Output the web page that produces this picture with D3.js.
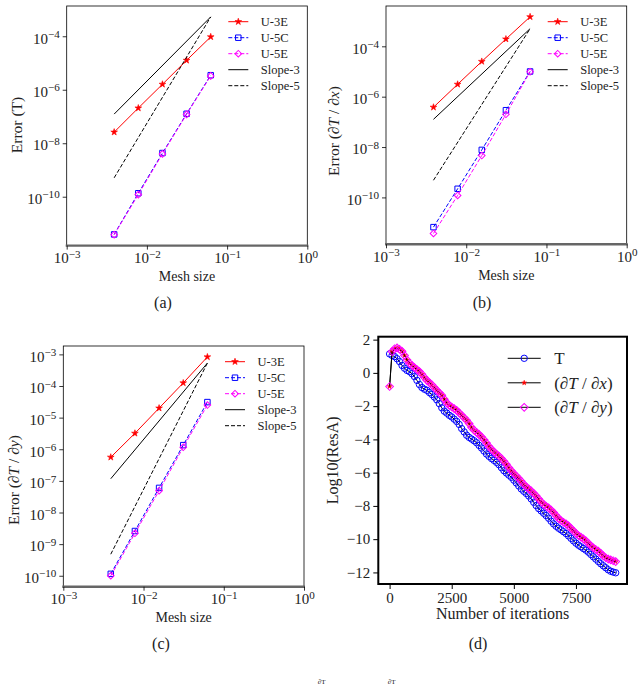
<!DOCTYPE html>
<html lang="en">
<head>
<meta charset="utf-8">
<title>Error convergence and residuals</title>
<script src="https://cdn.jsdelivr.net/npm/d3@7"></script>
<style>
  body { margin: 0; background: #fff; }
  svg text { font-family: "Liberation Serif", "DejaVu Serif", serif; fill: #222; }
</style>
</head>
<body>
<svg id="fig" width="642" height="685"></svg>
<script>
// mesh sizes h = 1/256 ... 1/16
var meshSize = [0.00390625, 0.0078125, 0.015625, 0.03125, 0.0625];
var slopeX = [0.00390625, 0.0625];

// (a) error in T
var errT_U3E = [2.6e-8, 2.07e-7, 1.6e-6, 1.26e-5, 9.5e-5];
var errT_U5C = [3.9e-12, 1.35e-10, 4.3e-9, 1.26e-7, 3.5e-6];
var errT_U5E = [3.8e-12, 1.2e-10, 4.0e-9, 1.2e-7, 3.3e-6];
var errT_slope3 = [1.23e-7, 5.3e-4];
var errT_slope5 = [5.1e-10, 5.3e-4];

// (b) error in dT/dx
var errDx_U3E = [3.8e-7, 3.1e-6, 2.5e-5, 1.94e-4, 1.48e-3];
var errDx_U5C = [6.6e-12, 2.2e-10, 7.7e-9, 2.9e-7, 1.0e-5];
var errDx_U5E = [3.7e-12, 1.2e-10, 4.6e-9, 2.0e-7, 9.7e-6];
var errDx_slope3 = [1.26e-7, 5.0e-4];
var errDx_slope5 = [4.8e-10, 5.0e-4];

// (c) error in dT/dy
var errDy_U3E = [5.6e-7, 3.2e-6, 2.0e-5, 1.25e-4, 8.3e-4];
var errDy_U5C = [1.15e-10, 2.6e-9, 6.0e-8, 1.35e-6, 3.1e-5];
var errDy_U5E = [1.0e-10, 2.2e-9, 4.9e-8, 1.15e-6, 2.5e-5];
var errDy_slope3 = [1.17e-7, 5.3e-4];
var errDy_slope5 = [4.8e-10, 5.3e-4];

// (d) log10 of residual, sampled every 100 iterations
var iterations = d3.range(0, 9101, 100);
var resT = [
  1.14, 1.05, 0.98, 0.85, 0.68, 0.45, 0.28, 0.15, 0.08, -0.05,
  -0.22, -0.45, -0.70, -0.88, -0.98, -1.05, -1.18, -1.30, -1.45, -1.62,
  -1.85, -2.10, -2.30, -2.42, -2.55, -2.65, -2.78, -2.92, -3.10, -3.35,
  -3.55, -3.75, -3.88, -3.98, -4.08, -4.20, -4.36, -4.52, -4.70, -4.88,
  -5.02, -5.15, -5.26, -5.38, -5.52, -5.70, -5.88, -6.02, -6.15, -6.28,
  -6.45, -6.62, -6.80, -6.98, -7.12, -7.25, -7.40, -7.58, -7.78, -7.98,
  -8.16, -8.30, -8.44, -8.58, -8.74, -8.92, -9.08, -9.22, -9.34, -9.44,
  -9.55, -9.66, -9.80, -9.95, -10.10, -10.24, -10.36, -10.46, -10.56, -10.66,
  -10.78, -10.92, -11.06, -11.20, -11.34, -11.48, -11.60, -11.72, -11.84, -11.93,
  -11.98, -12.02
];
var resDx = [
  -0.82, 1.28, 1.45, 1.50, 1.42, 1.30, 1.05, 0.78, 0.58, 0.45,
  0.32, 0.20, 0.08, -0.08, -0.28, -0.45, -0.58, -0.72, -0.88, -1.05,
  -1.20, -1.35, -1.58, -1.80, -1.95, -2.05, -2.15, -2.25, -2.40, -2.55,
  -2.70, -2.85, -3.05, -3.28, -3.45, -3.58, -3.70, -3.85, -4.02, -4.22,
  -4.42, -4.60, -4.75, -4.88, -5.00, -5.15, -5.32, -5.50, -5.70, -5.88,
  -6.05, -6.20, -6.35, -6.52, -6.70, -6.85, -6.98, -7.10, -7.25, -7.40,
  -7.58, -7.75, -7.90, -8.02, -8.12, -8.25, -8.40, -8.58, -8.75, -8.88,
  -8.98, -9.08, -9.20, -9.35, -9.50, -9.65, -9.78, -9.88, -9.98, -10.10,
  -10.25, -10.40, -10.52, -10.62, -10.72, -10.85, -11.00, -11.12, -11.20, -11.25,
  -11.30, -11.35
];
var resDy = [
  -0.82, 1.28, 1.45, 1.50, 1.42, 1.30, 1.05, 0.78, 0.58, 0.45,
  0.32, 0.20, 0.08, -0.08, -0.28, -0.45, -0.58, -0.72, -0.88, -1.05,
  -1.20, -1.35, -1.58, -1.80, -1.95, -2.05, -2.15, -2.25, -2.40, -2.55,
  -2.70, -2.85, -3.05, -3.28, -3.45, -3.58, -3.70, -3.85, -4.02, -4.22,
  -4.42, -4.60, -4.75, -4.88, -5.00, -5.15, -5.32, -5.50, -5.70, -5.88,
  -6.05, -6.20, -6.35, -6.52, -6.70, -6.85, -6.98, -7.10, -7.25, -7.40,
  -7.58, -7.75, -7.90, -8.02, -8.12, -8.25, -8.40, -8.58, -8.75, -8.88,
  -8.98, -9.08, -9.20, -9.35, -9.50, -9.65, -9.78, -9.88, -9.98, -10.10,
  -10.25, -10.40, -10.52, -10.62, -10.72, -10.85, -11.00, -11.12, -11.20, -11.25,
  -11.30, -11.35
];

var svg = d3.select("#fig");
svg.append("rect").attr("width", 642).attr("height", 685).attr("fill", "#fff");

var RED = "#ff0000", BLUE = "#0000ff", MAG = "#ff00ff";
var DASH = "4,2";

function marker(g, kind, color, x, y, small) {
  if (kind == "star") {
    g.append("path").attr("d", d3.symbol().type(d3.symbolStar).size(small ? 7 : 14)())
      .attr("transform", "translate(" + x + "," + y + ")")
      .attr("fill", color).attr("stroke", color).attr("stroke-width", 0.6);
  } else if (kind == "square") {
    g.append("path").attr("d", d3.symbol().type(d3.symbolSquare).size(30)())
      .attr("transform", "translate(" + x + "," + y + ")")
      .attr("fill", "none").attr("stroke", color).attr("stroke-width", 1);
  } else if (kind == "diamond") {
    g.append("path").attr("d", d3.symbol().type(d3.symbolSquare).size(small ? 30 : 22)())
      .attr("transform", "translate(" + x + "," + y + ") rotate(45)")
      .attr("fill", "none").attr("stroke", color).attr("stroke-width", 1);
  } else if (kind == "circle") {
    g.append("circle").attr("cx", x).attr("cy", y).attr("r", 3.2)
      .attr("fill", "none").attr("stroke", color).attr("stroke-width", 1);
  }
}

// text made of roman / italic pieces
function rich(t, parts) {
  parts.forEach(function (p) {
    t.append("tspan").text(p[0]).style("font-style", p[1] ? "italic" : "normal");
  });
}

function powLabel(sel) {
  sel.each(function (d) {
    var e = Math.round(Math.log10(d));
    var t = d3.select(this).text(null);
    t.append("tspan").text("10");
    t.append("tspan").attr("dy", "-0.5em").attr("font-size", "0.74em")
      .text(e < 0 ? "\u2212" + (-e) : String(e));
  });
}

function logPanel(p) {
  var g = svg.append("g");
  var x = d3.scaleLog().domain([1e-3, 1]).range([p.left, p.right]);
  var all = [].concat(p.series[0].v, p.series[1].v, p.series[2].v, p.slope3, p.slope5);
  var lo = Math.log10(d3.min(all)), hi = Math.log10(d3.max(all));
  var m = (hi - lo) * 0.05;
  var y = d3.scaleLog().domain([Math.pow(10, lo - m), Math.pow(10, hi + m)])
    .range([p.bottom, p.top]);

  var line = d3.line().x(function (d) { return x(d[0]); }).y(function (d) { return y(d[1]); });
  var plot = g.append("g");

  function drawLine(xs, vs, color, dash, mk) {
    var pts = xs.map(function (v, i) { return [v, vs[i]]; });
    plot.append("path").attr("d", line(pts)).attr("fill", "none")
      .attr("stroke", color).attr("stroke-width", 1)
      .attr("stroke-dasharray", dash || null);
    if (mk) pts.forEach(function (d) { marker(plot, mk, color, x(d[0]), y(d[1])); });
  }
  p.series.forEach(function (s) { drawLine(meshSize, s.v, s.color, s.dash, s.mk); });
  drawLine(slopeX, p.slope3, "#000", null, null);
  drawLine(slopeX, p.slope5, "#000", DASH, null);

  // frame
  g.append("rect").attr("x", p.left).attr("y", p.top)
    .attr("width", p.right - p.left).attr("height", p.bottom - p.top)
    .attr("fill", "none").attr("stroke", "#000").attr("stroke-width", 0.8);
  g.append("line").attr("x1", p.left - 1).attr("x2", p.right + 1)
    .attr("y1", p.bottom).attr("y2", p.bottom)
    .attr("stroke", "#666").attr("stroke-width", 2.4);

  var ax = g.append("g").attr("transform", "translate(0," + p.bottom + ")")
    .call(d3.axisBottom(x).tickValues([1e-3, 1e-2, 1e-1, 1]).tickSize(4).tickPadding(3));
  var ay = g.append("g").attr("transform", "translate(" + p.left + ",0)")
    .call(d3.axisLeft(y).tickValues(p.yTicks).tickSize(4).tickPadding(3));
  [ax, ay].forEach(function (a) {
    a.select(".domain").remove();
    a.selectAll(".tick line").attr("stroke", "#000").attr("stroke-width", 0.8);
    a.selectAll(".tick text").attr("font-family", null).attr("font-size", 15)
      .attr("fill", "#333").call(powLabel);
  });
  ay.selectAll(".tick text").attr("dy", "0.45em");

  g.append("text").attr("x", (p.left + p.right) / 2).attr("y", p.bottom + 35.5)
    .attr("text-anchor", "middle").attr("font-size", 14).attr("fill", "#333")
    .text("Mesh size");
  var yl = g.append("text").attr("text-anchor", "middle").attr("font-size", 15.5)
    .attr("fill", "#333")
    .attr("transform", "translate(" + p.ylabelX + "," + p.ylabelY + ") rotate(-90)")
    .attr("dy", "0.35em");
  rich(yl, p.ylabel);

  g.append("text").attr("x", p.caption[1]).attr("y", p.caption[2])
    .attr("text-anchor", "middle").attr("font-size", 16).text(p.caption[0]);

  // legend
  var items = p.series.map(function (s) { return s; }).concat([
    { name: "Slope-3", color: "#000", dash: null, mk: null },
    { name: "Slope-5", color: "#000", dash: DASH, mk: null }
  ]);
  var lg = g.append("g").attr("transform", "translate(" + (p.right - 79) + "," + (p.top + 15.7) + ")");
  items.forEach(function (s, i) {
    var yy = i * 16;
    lg.append("line").attr("x1", 0).attr("x2", 20).attr("y1", yy).attr("y2", yy)
      .attr("stroke", s.color).attr("stroke-width", 1).attr("stroke-dasharray", s.dash || null);
    if (s.mk) marker(lg, s.mk, s.color, 10, yy);
    lg.append("text").attr("x", 32.5).attr("y", yy).attr("dy", "0.35em")
      .attr("font-size", 12.5).attr("fill", "#333").text(s.name);
  });
}

function seriesOf(a, b, c) {
  return [
    { name: "U-3E", v: a, color: RED, dash: null, mk: "star" },
    { name: "U-5C", v: b, color: BLUE, dash: DASH, mk: "square" },
    { name: "U-5E", v: c, color: MAG, dash: DASH, mk: "diamond" }
  ];
}

var dxLabel = [["Error (\u2202", false], ["T", true], [" / \u2202", false], ["x", true], [")", false]];
var dyLabel = [["Error (\u2202", false], ["T", true], [" / \u2202", false], ["y", true], [")", false]];

logPanel({
  left: 66.7, right: 307.3, top: 6, bottom: 245.6,
  series: seriesOf(errT_U3E, errT_U5C, errT_U5E),
  slope3: errT_slope3, slope5: errT_slope5,
  yTicks: [1e-4, 1e-6, 1e-8, 1e-10],
  ylabelX: 16.7, ylabelY: 125, ylabel: [["Error (T)", false]],
  caption: ["(a)", 163, 308]
});
logPanel({
  left: 386, right: 626.7, top: 6, bottom: 244.3,
  series: seriesOf(errDx_U3E, errDx_U5C, errDx_U5E),
  slope3: errDx_slope3, slope5: errDx_slope5,
  yTicks: [1e-4, 1e-6, 1e-8, 1e-10],
  ylabelX: 334, ylabelY: 131, ylabel: dxLabel,
  caption: ["(b)", 482, 308]
});
logPanel({
  left: 63.3, right: 304, top: 346, bottom: 586.7,
  series: seriesOf(errDy_U3E, errDy_U5C, errDy_U5E),
  slope3: errDy_slope3, slope5: errDy_slope5,
  yTicks: [1e-3, 1e-4, 1e-5, 1e-6, 1e-7, 1e-8, 1e-9, 1e-10],
  ylabelX: 13.3, ylabelY: 480, ylabel: dyLabel,
  caption: ["(c)", 161, 649]
});

// (d) residual history
(function () {
  var L = 378.3, R = 627, T = 336.7, B = 584;
  var g = svg.append("g");
  var xe = d3.extent(iterations), xm = (xe[1] - xe[0]) * 0.05;
  var x = d3.scaleLinear().domain([xe[0] - xm, xe[1] + xm]).range([L, R]);
  var ye = d3.extent([].concat(resT, resDx, resDy)), ym = (ye[1] - ye[0]) * 0.05;
  var y = d3.scaleLinear().domain([ye[0] - ym, ye[1] + ym]).range([B, T]);
  var line = d3.line().x(function (d, i) { return x(iterations[i]); }).y(function (d) { return y(d); });

  var sets = [
    { v: resT, mk: "circle", color: BLUE },
    { v: resDx, mk: "star", color: RED },
    { v: resDy, mk: "diamond", color: MAG }
  ];
  sets.forEach(function (s) {
    g.append("path").attr("d", line(s.v)).attr("fill", "none")
      .attr("stroke", "#000").attr("stroke-width", 1);
    s.v.forEach(function (d, i) { marker(g, s.mk, s.color, x(iterations[i]), y(d), true); });
  });

  g.append("rect").attr("x", L).attr("y", T).attr("width", R - L).attr("height", B - T)
    .attr("fill", "none").attr("stroke", "#000").attr("stroke-width", 2);

  var ax = g.append("g").attr("transform", "translate(0," + B + ")")
    .call(d3.axisBottom(x).tickValues([0, 2500, 5000, 7500]).tickFormat(d3.format("d"))
      .tickSize(5).tickPadding(3));
  var ay = g.append("g").attr("transform", "translate(" + L + ",0)")
    .call(d3.axisLeft(y).tickValues([2, 0, -2, -4, -6, -8, -10, -12]).tickSize(5).tickPadding(3));
  [ax, ay].forEach(function (a) {
    a.select(".domain").remove();
    a.selectAll(".tick line").attr("stroke", "#000").attr("stroke-width", 1);
    a.selectAll(".tick text").attr("font-family", null).attr("font-size", 15).attr("fill", "#333");
  });

  g.append("text").attr("x", (L + R) / 2).attr("y", 619).attr("text-anchor", "middle")
    .attr("font-size", 16).attr("fill", "#333").text("Number of iterations");
  g.append("text").attr("text-anchor", "middle").attr("font-size", 16).attr("fill", "#333")
    .attr("transform", "translate(332.7," + (T + B) / 2 + ") rotate(-90)").attr("dy", "0.35em")
    .text("Log10(ResA)");
  g.append("text").attr("x", 478).attr("y", 649).attr("text-anchor", "middle")
    .attr("font-size", 16).text("(d)");

  var names = [
    [["T", false]],
    [["(\u2202", false], ["T", true], [" / \u2202", false], ["x", true], [")", false]],
    [["(\u2202", false], ["T", true], [" / \u2202", false], ["y", true], [")", false]]
  ];
  var lg = g.append("g").attr("transform", "translate(" + (R - 119.3) + "," + (T + 21.6) + ")");
  sets.forEach(function (s, i) {
    var yy = i * 24.5;
    lg.append("line").attr("x1", 0).attr("x2", 33).attr("y1", yy).attr("y2", yy)
      .attr("stroke", "#000").attr("stroke-width", 1);
    marker(lg, s.mk, s.color, 16.5, yy, true);
    var t = lg.append("text").attr("x", 46.5).attr("y", yy).attr("dy", "0.35em")
      .attr("font-size", 17).attr("fill", "#333");
    rich(t, names[i]);
  });
})();

// figure caption fragments at the bottom edge
svg.append("text").attr("x", 321.7).attr("y", 684).attr("text-anchor", "middle")
  .attr("font-size", 7).text("\u2202T");
svg.append("text").attr("x", 391.7).attr("y", 684).attr("text-anchor", "middle")
  .attr("font-size", 7).text("\u2202T");
</script>
</body>
</html>
